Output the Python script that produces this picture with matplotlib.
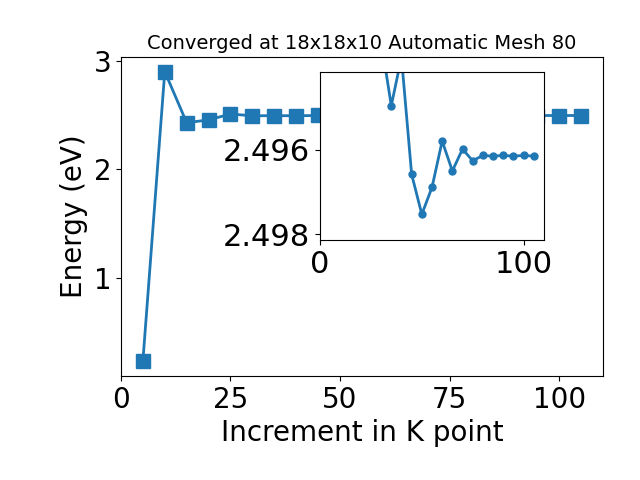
import numpy as np
import matplotlib
matplotlib.use("Agg")
import matplotlib.pyplot as plt

# k-point increment vs total energy
kpoints = [5, 10, 15, 20, 25, 30, 35, 40, 45, 50, 55, 60, 65, 70, 75, 80, 85, 90, 95, 100, 105]
energy = [0.235, 2.90, 2.43, 2.456, 2.51, 2.4934, 2.49495, 2.4938, 2.49658, 2.49753,
          2.49689, 2.49579, 2.49650, 2.49598, 2.49626, 2.49613, 2.49615, 2.49613,
          2.49615, 2.49613, 2.49615]

# zoomed part shown in the inset
inset_k = kpoints[5:]
inset_e = energy[5:]

fig = plt.figure(figsize=(6.4, 4.8), dpi=100)
ax = fig.add_axes([0.189, 0.217, 0.753, 0.664])
ax.plot(kpoints, energy, '-s', color='#1f77b4', lw=2, markersize=10)
ax.set_title('Converged at 18x18x10 Automatic Mesh 80', fontsize=14)
ax.set_xlabel('Increment in K point', fontsize=20)
ax.set_ylabel('Energy (eV)', fontsize=20)
ax.set_xticks([0, 25, 50, 75, 100])
ax.set_yticks([1, 2, 3])
ax.tick_params(labelsize=20)

ins = fig.add_axes([0.5, 0.5, 0.35, 0.35])
ins.plot(inset_k, inset_e, '-o', color='#1f77b4', lw=2, markersize=5)
ins.set_xlim(0, 110)
ins.set_ylim(2.49814, 2.49415)
ins.set_xticks([0, 100])
ins.set_yticks([2.496, 2.498])
ins.tick_params(labelsize=22)

fig.savefig('out.png', dpi=100)
